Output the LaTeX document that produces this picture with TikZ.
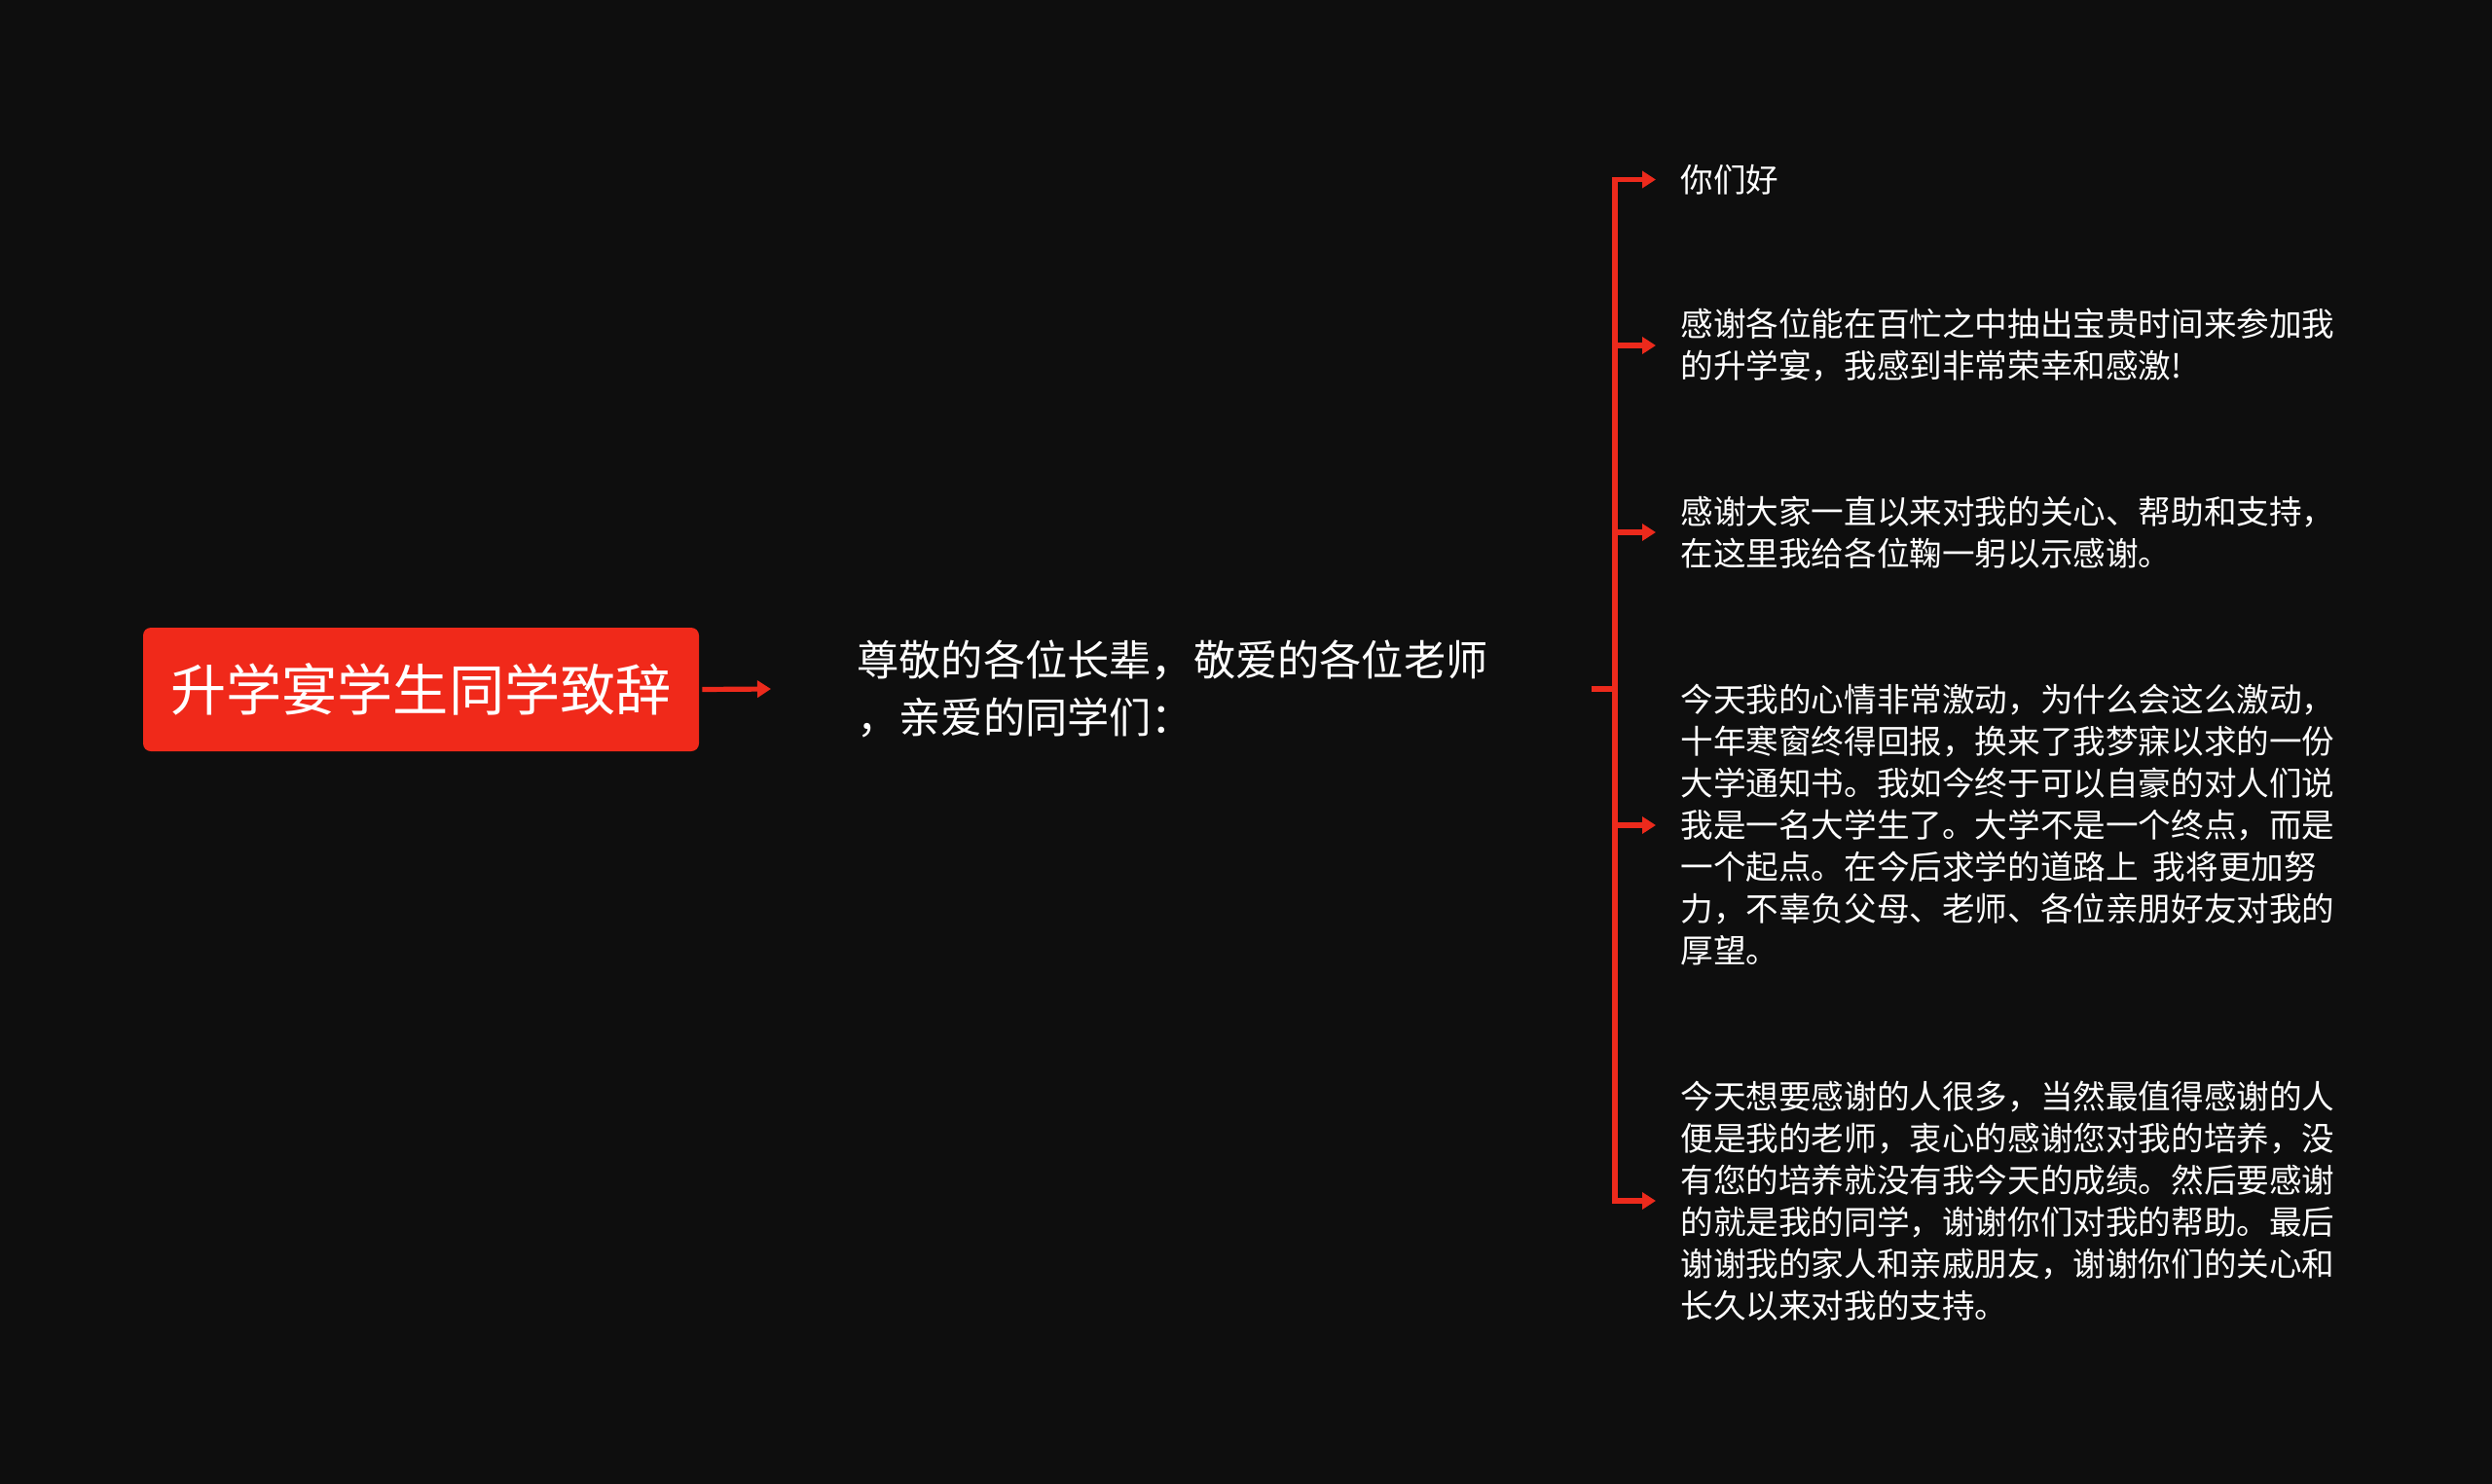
\documentclass[tikz,border=0pt]{standalone}
\usepackage{fontspec}
\setmainfont{Noto Sans CJK SC}
\usetikzlibrary{arrows.meta}
\definecolor{bg}{HTML}{0E0E0E}
\definecolor{rd}{HTML}{EC2A1C}
\definecolor{rootred}{HTML}{F0291A}
\begin{document}
\begin{tikzpicture}[x=1pt,y=1pt,
  rootbox/.style={fill=rootred, rounded corners=4pt, text=white, minimum width=285.5pt, minimum height=63.5pt, inner sep=0pt, font={\fontsize{28.6}{34}\selectfont}},
  mainbox/.style={text=white, align=left, inner xsep=44pt, inner ysep=0pt, font={\fontsize{21.6}{29.5}\selectfont}},
  leaf/.style={anchor=west, text=white, align=left, inner xsep=12.5pt, inner ysep=0pt, font={\fontsize{16.8}{21.5}\selectfont}},
  conn/.style={draw=rd, line width=2.6pt, -{Triangle[length=7pt,width=8.5pt]}},
  plain/.style={draw=rd, line width=2.6pt}
]
\fill[bg] (0,0) rectangle (1280,-762.5);
\useasboundingbox (0,0) rectangle (1280,-762.5);

\node[rootbox] (root) at (216.25,-354.25) {升学宴学生同学致辞};
\node[mainbox, anchor=west] (main) at (396,-354) {尊敬的各位长辈，敬爱的各位老师\\，亲爱的同学们：};

\node[leaf] (l1) at (850.5,-92.25) {你们好};
\node[leaf] (l2) at (850.5,-177.5) {感谢各位能在百忙之中抽出宝贵时间来参加我\\的升学宴，我感到非常荣幸和感激!};
\node[leaf] (l3) at (850.5,-273.5) {感谢大家一直以来对我的关心、帮助和支持，\\在这里我给各位鞠一躬以示感谢。};
\node[leaf] (l4) at (850.5,-424) {今天我的心情非常激动，为什么会这么激动，\\十年寒窗终得回报，换来了我梦寐以求的一份\\大学通知书。我如今终于可以自豪的对人们说\\我是一名大学生了。大学不是一个终点，而是\\一个起点。在今后求学的道路上\ \ 我将更加努\\力，不辜负父母、老师、各位亲朋好友对我的\\厚望。};
\node[leaf] (l5) at (850.5,-617) {今天想要感谢的人很多，当然最值得感谢的人\\便是我的老师，衷心的感谢您对我的培养，没\\有您的培养就没有我今天的成绩。然后要感谢\\的就是我的同学，谢谢你们对我的帮助。最后\\谢谢我的家人和亲戚朋友，谢谢你们的关心和\\长久以来对我的支持。};

\coordinate (j) at (829.5,-354);

\draw[conn] ([xshift=1.5pt]root.east) -- (main.west);
\draw[plain] ([xshift=9pt]main.east) -- (j);
\draw[conn] (j |- l5.west) -- (j |- l1.west) -- (l1.west);
\draw[conn] (j |- l1.west) -- (j |- l5.west) -- (l5.west);
\draw[conn] (j |- l2.west) -- (l2.west);
\draw[conn] (j |- l3.west) -- (l3.west);
\draw[conn] (j |- l4.west) -- (l4.west);
\end{tikzpicture}
\end{document}
